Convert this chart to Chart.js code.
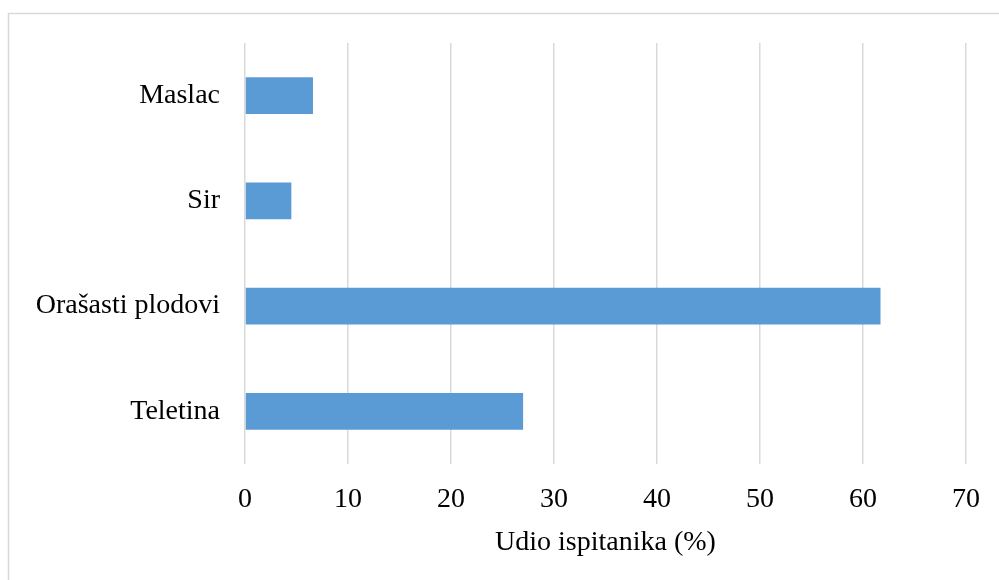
<!DOCTYPE html>
<html>
<head>
<meta charset="utf-8">
<script src="https://cdn.jsdelivr.net/npm/chart.js@4.4.1/dist/chart.umd.min.js"></script>
<style>
  html, body { margin: 0; padding: 0; background: #fff; }
  #wrap { width: 999px; height: 580px; position: relative; }
</style>
</head>
<body>
<div id="wrap"><canvas id="foodChart"></canvas></div>
<script>
// kategorije i vrijednosti (%)
const categories = ['Maslac', 'Sir', 'Orašasti plodovi', 'Teletina'];
const shares = [6.6, 4.5, 61.7, 27.0];
const axisMin = 0;
const axisMax = 70;
const axisStep = 10;
const axisTitle = 'Udio ispitanika (%)';

const serif = "'Liberation Serif', 'Times New Roman', serif";

// okvir oko grafa (kao u Excelu)
const framePlugin = {
  id: 'frame',
  beforeDraw(chart) {
    const ctx = chart.ctx;
    ctx.save();
    ctx.strokeStyle = '#d9d9d9';
    ctx.lineWidth = 1.5;
    ctx.strokeRect(8.5, 13.5, 1000, 600);
    ctx.restore();
  }
};

const ctx = document.getElementById('foodChart');
const foodChart = new Chart(ctx, {
  type: 'bar',
  data: {
    labels: categories,
    datasets: [{
      label: axisTitle,
      data: shares,
      backgroundColor: '#5b9bd5',
      borderWidth: 0,
      barPercentage: 0.35,
      categoryPercentage: 1.0
    }]
  },
  options: {
    indexAxis: 'y',
    responsive: true,
    maintainAspectRatio: false,
    animation: false,
    layout: {
      padding: { top: 43, right: 25, bottom: 0, left: 0 }
    },
    plugins: {
      legend: { display: false },
      tooltip: { enabled: false },
      title: { display: false }
    },
    scales: {
      x: {
        min: axisMin,
        max: axisMax,
        afterFit(scale) { scale.height = 116; },
        ticks: {
          stepSize: axisStep,
          color: '#000',
          padding: 19,
          font: { family: serif, size: 28 }
        },
        grid: {
          color: '#d9d9d9',
          lineWidth: 1.5,
          drawTicks: false
        },
        border: { display: false },
        title: {
          display: true,
          text: axisTitle,
          color: '#000',
          font: { family: serif, size: 28 },
          padding: { top: 0, bottom: 21 }
        }
      },
      y: {
        afterFit(scale) { scale.width = 245; },
        ticks: {
          color: '#000',
          padding: 25,
          font: { family: serif, size: 28 }
        },
        grid: { display: false, drawTicks: false },
        border: { display: false }
      }
    }
  },
  plugins: [framePlugin]
});
</script>
</body>
</html>
